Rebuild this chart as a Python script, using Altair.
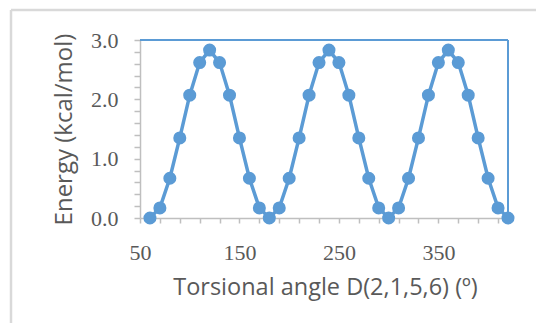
import altair as alt
import pandas as pd

# Data
angles = [60, 70, 80, 90, 100, 110, 120, 130, 140, 150, 160, 170,
          180, 190, 200, 210, 220, 230, 240, 250, 260, 270, 280, 290,
          300, 310, 320, 330, 340, 350, 360, 370, 380, 390, 400, 410, 420]
energies = [0.00, 0.17, 0.67, 1.35, 2.07, 2.62, 2.83, 2.62, 2.07, 1.35, 0.67, 0.17,
            0.00, 0.17, 0.67, 1.35, 2.07, 2.62, 2.83, 2.62, 2.07, 1.35, 0.67, 0.17,
            0.00, 0.17, 0.67, 1.35, 2.07, 2.62, 2.83, 2.62, 2.07, 1.35, 0.67, 0.17,
            0.00]

x_ticks = [50, 70, 90, 110, 130, 150, 170, 190, 210, 230, 250, 270, 290, 310,
           330, 350, 370, 390, 410]
x_labels = [50, 150, 250, 350]
y_ticks = [0.0, 0.2, 0.4, 0.6, 0.8, 1.0, 1.2, 1.4, 1.6, 1.8, 2.0, 2.2, 2.4,
           2.6, 2.8, 3.0]
y_labels = [0, 1, 2, 3]
x_domain = [50, 420]
y_domain = [0, 3]

df = pd.DataFrame({"angle": angles, "energy": energies})

BLUE = "#5B9BD5"
GRAY_AX = "#BFBFBF"
TXT = "#595959"
TITLE_FONT = "Open Sans"
LABEL_FONT = "Liberation Serif"

W, H = 368, 178

xscale = alt.Scale(domain=x_domain, nice=False, zero=False)
yscale = alt.Scale(domain=y_domain, nice=False)

xaxis = alt.Axis(
    values=x_ticks, tickCount=len(x_ticks),
    labelExpr="indexof(%s, datum.value) >= 0 ? datum.value : ''" % str(x_labels),
    labelOverlap=False, labelFlush=False,
    grid=False,
    domainColor=GRAY_AX, domainWidth=1.5,
    tickColor=GRAY_AX, tickWidth=1.5, tickSize=5,
    labelFont=LABEL_FONT, labelFontSize=22, labelColor=TXT, labelPadding=19,
    title="Torsional angle D(2,1,5,6) (º)",
    titleFont=TITLE_FONT, titleFontSize=23.5, titleFontWeight="normal", titleColor=TXT,
    titleX=185, titleY=69, titleBaseline="middle", titleAlign="center",
)
yaxis = alt.Axis(
    values=y_ticks, tickCount=len(y_ticks),
    labelExpr="indexof(%s, datum.value) >= 0 ? format(datum.value, '.1f') : ''" % str(y_labels),
    labelOverlap=False, labelFlush=False,
    grid=False,
    domainColor=GRAY_AX, domainWidth=1.5,
    tickColor=GRAY_AX, tickWidth=1.5, tickSize=6,
    labelFont=LABEL_FONT, labelFontSize=22, labelColor=TXT, labelPadding=16,
    labelBaseline="middle",
    title="Energy (kcal/mol)",
    titleFont=TITLE_FONT, titleFontSize=24, titleFontWeight="normal", titleColor=TXT,
    titleX=-76, titleY=H / 2, titleAngle=-90, titleBaseline="middle", titleAlign="center",
)

one = alt.Data(values=[{"k": 0}])

# outer light-gray frame (decoration)
frame_top = alt.Chart(one).mark_rule(color="#D9D9D9", strokeWidth=2.5).encode(
    x=alt.value(-129), x2=alt.value(420), y=alt.value(-30))
frame_left = alt.Chart(one).mark_rule(color="#D9D9D9", strokeWidth=2.5).encode(
    x=alt.value(-129), y=alt.value(-30), y2=alt.value(320))

# blue top / right border of plot area
top_border = alt.Chart(one).mark_rule(color=BLUE, strokeWidth=2).encode(
    x=alt.datum(x_domain[0], scale=xscale), x2=alt.datum(x_domain[1]),
    y=alt.datum(y_domain[1], scale=yscale))
right_border = alt.Chart(one).mark_rule(color=BLUE, strokeWidth=2).encode(
    x=alt.datum(x_domain[1], scale=xscale),
    y=alt.datum(y_domain[0], scale=yscale), y2=alt.datum(y_domain[1]))

base = alt.Chart(df).encode(
    x=alt.X("angle:Q", scale=xscale, axis=xaxis),
    y=alt.Y("energy:Q", scale=yscale, axis=yaxis),
)
line = base.mark_line(color=BLUE, strokeWidth=3.5)
pts = base.mark_point(filled=True, color=BLUE, size=170, opacity=1)

chart = alt.layer(frame_top, frame_left, top_border, right_border, line, pts).properties(
    width=W, height=H,
    autosize=alt.AutoSizeParams(type="none"),
    padding={"left": 132, "top": 32, "right": 28, "bottom": 105},
    background="white",
).configure_view(stroke=None)

chart.save("out.html", embed_options={"renderer": "svg", "actions": False})
